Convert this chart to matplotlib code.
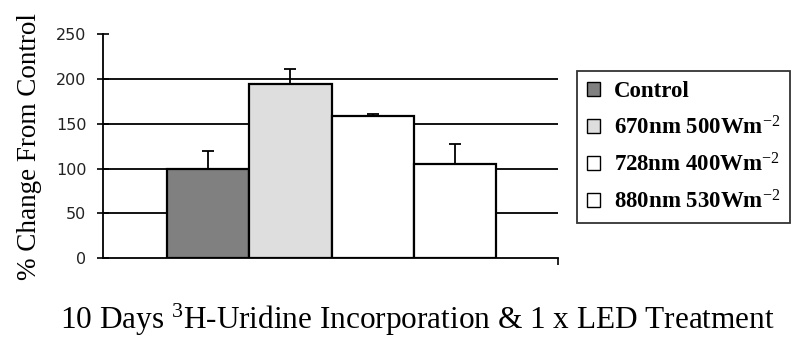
import matplotlib
matplotlib.use("Agg")
import matplotlib.pyplot as plt
from matplotlib.patches import Patch

plt.rcParams["mathtext.fontset"] = "custom"
plt.rcParams["mathtext.rm"] = "Liberation Serif"
plt.rcParams["mathtext.it"] = "Liberation Serif:italic"
plt.rcParams["mathtext.bf"] = "Liberation Serif:bold"

categories = ["Control", "670nm 500Wm$^{-2}$", "728nm 400Wm$^{-2}$", "880nm 530Wm$^{-2}$"]
values = [100, 195, 159, 105]
errors = [20, 16, 2, 23]
colors = ["#808080", "#dedede", "#ffffff", "#ffffff"]
yticks = [0, 50, 100, 150, 200, 250]

fig = plt.figure(figsize=(8.03, 3.54), dpi=100)
ax = fig.add_axes([0.1283, 0.2712, 0.5666, 0.6314])

ax.set_axisbelow(True)
for y in yticks[1:-1]:
    ax.axhline(y, color="black", lw=1.3, zorder=0)

x = list(range(len(values)))
ax.bar(x, values, width=1.0, color=colors, edgecolor="black", linewidth=1.6, zorder=2)
ax.errorbar(x, values, yerr=[[0]*len(errors), errors], fmt="none", ecolor="black",
            elinewidth=1.3, capsize=4, capthick=1.3, zorder=3)

ax.set_xlim(-1.278, 4.254)
ax.set_ylim(0, 250)
ax.set_yticks(yticks)
ax.set_yticklabels([str(t) for t in yticks], fontsize=11.5, family="DejaVu Sans", color="#222222")
ax.tick_params(axis="y", direction="inout", length=8, width=1.2, pad=8)
ax.set_xticks([4.254])
ax.set_xticklabels([""])
ax.tick_params(axis="x", direction="out", length=5, width=1.2)
for s in ["top", "right"]:
    ax.spines[s].set_visible(False)
ax.spines["left"].set_linewidth(1.3)
ax.spines["bottom"].set_linewidth(1.3)

ax.set_ylabel("% Change From Control", family="Liberation Serif", fontsize=19.5, labelpad=10)

fig.text(0.52, 0.095, "10 Days $^{3}$H-Uridine Incorporation & 1 x LED Treatment",
         ha="center", va="center", family="Liberation Serif", fontsize=22.5)

handles = [Patch(facecolor=c, edgecolor="black", linewidth=1) for c in colors]
leg = fig.legend(handles, categories, loc="upper left", bbox_to_anchor=(0.7186, 0.7994),
                 borderaxespad=0, frameon=True, fancybox=False, edgecolor="black",
                 handlelength=0.55, handleheight=0.55, handletextpad=0.6, labelspacing=0.6,
                 borderpad=0.45, prop={"family": "Liberation Serif", "size": 16.5, "weight": "bold"})
leg.get_frame().set_linewidth(1.3)

fig.savefig("out.png", dpi=100)
